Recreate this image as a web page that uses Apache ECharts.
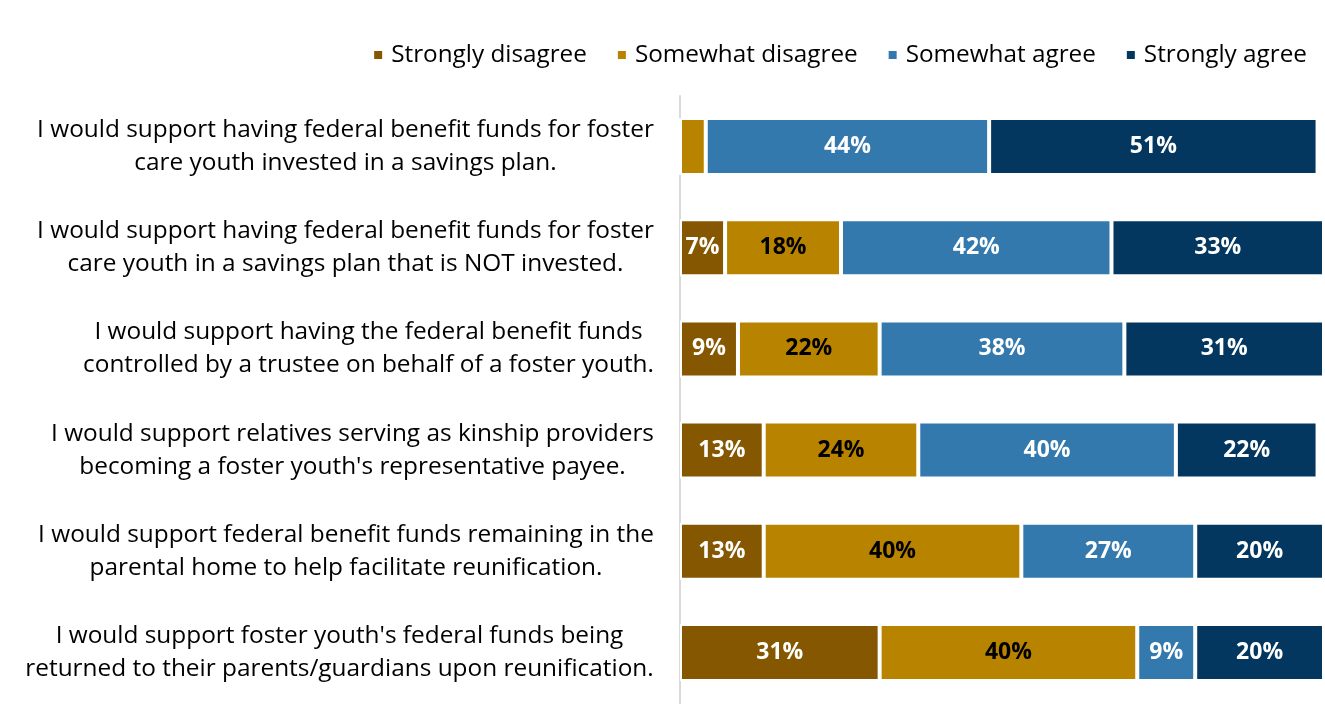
<!DOCTYPE html>
<html>
<head>
<meta charset="utf-8">
<script src="https://cdn.jsdelivr.net/npm/echarts@6/dist/echarts.min.js"></script>
<style>
  html, body { margin: 0; padding: 0; background: #fff; }
  #chart { width: 1325px; height: 723px; }
</style>
</head>
<body>
<div id="chart"></div>
<script>
// Survey statements, top to bottom
const statements = [
  ["I would support having federal benefit funds for foster", "care youth invested in a savings plan."],
  ["I would support having federal benefit funds for foster", "care youth in a savings plan that is NOT invested."],
  ["I would support having the federal benefit funds", "controlled by a trustee on behalf of a foster youth."],
  ["I would support relatives serving as kinship providers", "becoming a foster youth's representative payee."],
  ["I would support federal benefit funds remaining in the", "parental home to help facilitate reunification."],
  ["I would support foster youth's federal funds being", "returned to their parents/guardians upon reunification."]
];

const seriesNames = ["Strongly disagree", "Somewhat disagree", "Somewhat agree", "Strongly agree"];

// Percent of respondents per statement (same order as statements)
const stronglyDisagree = [0, 7, 9, 13, 13, 31];
const somewhatDisagree = [4, 18, 22, 24, 40, 40];
const somewhatAgree    = [44, 42, 38, 40, 27, 9];
const stronglyAgree    = [51, 33, 31, 22, 20, 20];

const colors = ["#855700", "#b88400", "#3479ad", "#03375f"];
const labelColors = ["#ffffff", "#000000", "#ffffff", "#ffffff"];

const FONT = "Open Sans";
const LABEL_SIZE = 24.4;

// Measure each statement so both lines can be centred inside a right-aligned block
const ctx = document.createElement("canvas").getContext("2d");
ctx.font = LABEL_SIZE + "px '" + FONT + "'";
const rich = {};
statements.forEach((lines, i) => {
  const w = Math.ceil(Math.max(...lines.map(l => ctx.measureText(l).width)));
  rich["r" + i] = { width: w, align: "center", fontSize: LABEL_SIZE, fontFamily: FONT, color: "#000", lineHeight: 33 };
});

const categoryKeys = statements.map((_, i) => "s" + i);

const chart = echarts.init(document.getElementById("chart"));

function makeSeries(name, data, idx) {
  return {
    name: name,
    type: "bar",
    stack: "total",
    barWidth: 57,
    data: data,
    itemStyle: { color: colors[idx], borderColor: "#ffffff", borderWidth: 2 },
    label: {
      show: true,
      position: "inside",
      formatter: p => (p.value >= 5 ? p.value + "%" : ""),
      color: labelColors[idx],
      fontFamily: FONT,
      fontWeight: "bold",
      fontSize: 23
    },
    emphasis: { disabled: true }
  };
}

chart.setOption({
  animation: false,
  color: colors,
  textStyle: { fontFamily: FONT },
  legend: {
    data: seriesNames,
    right: 13,
    top: 38,
    itemWidth: 10,
    itemHeight: 10,
    itemGap: 29,
    icon: "rect",
    textStyle: { fontFamily: FONT, fontSize: 24.3, color: "#000", padding: [0, 0, 0, 3] }
  },
  grid: { left: 680, right: 1, top: 96, bottom: 20, containLabel: false },
  xAxis: {
    type: "value",
    min: 0,
    max: 100,
    show: false
  },
  yAxis: {
    type: "category",
    inverse: true,
    data: categoryKeys,
    axisLine: { show: true, lineStyle: { color: "#d9d9d9", width: 2 } },
    axisTick: { show: false },
    axisLabel: {
      margin: 26,
      align: "right",
      formatter: (v, i) => statements[i].map(l => "{r" + i + "|" + l + "}").join("\n"),
      rich: rich
    }
  },
  series: [
    makeSeries(seriesNames[0], stronglyDisagree, 0),
    makeSeries(seriesNames[1], somewhatDisagree, 1),
    makeSeries(seriesNames[2], somewhatAgree, 2),
    makeSeries(seriesNames[3], stronglyAgree, 3)
  ]
});
</script>
</body>
</html>
